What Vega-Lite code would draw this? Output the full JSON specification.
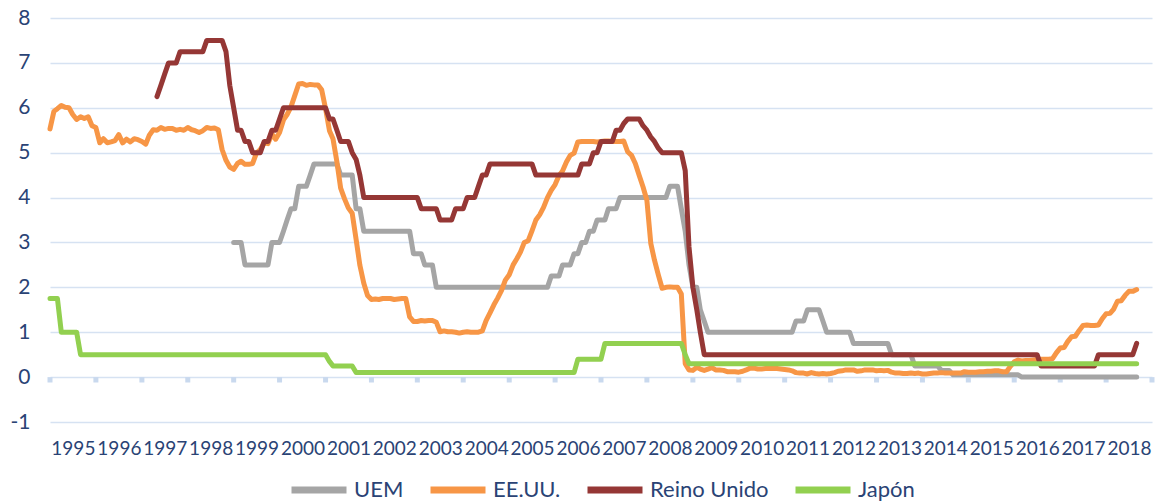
{
  "$schema": "https://vega.github.io/schema/vega-lite/v6.json",
  "width": 1102,
  "height": 404,
  "autosize": {"type": "none"},
  "padding": {"left": 50, "top": 18, "right": 8, "bottom": 82},
  "background": "white",
  "config": {
    "view": {"stroke": null},
    "font": "Lato",
    "axis": {"domain": false, "ticks": false, "tickSize": 0, "labelColor": "#2a4375", "labelFont": "Lato", "grid": false},
    "axisY": {"grid": true, "gridColor": "#d6e2f2", "gridWidth": 1.5, "labelFontSize": 21, "labelPadding": 20},
    "axisX": {"labelFontSize": 19, "labelPadding": 17},
    "legend": {"orient": "bottom", "direction": "horizontal", "symbolType": "stroke", "symbolSize": 3025, "symbolStrokeWidth": 7, "labelFontSize": 22, "labelColor": "#2a4375", "labelFont": "Lato", "columnPadding": 12, "labelOffset": 4, "offset": 1, "layout": {"bottom": {"anchor": "middle"}}}
  },
  "datasets": {
    "ticks": [
      {"d":"1995-01-01"},{"d":"1996-01-01"},{"d":"1997-01-01"},{"d":"1998-01-01"},{"d":"1999-01-01"},{"d":"2000-01-01"},{"d":"2001-01-01"},{"d":"2002-01-01"},{"d":"2003-01-01"},{"d":"2004-01-01"},{"d":"2005-01-01"},{"d":"2006-01-01"},{"d":"2007-01-01"},{"d":"2008-01-01"},{"d":"2009-01-01"},{"d":"2010-01-01"},{"d":"2011-01-01"},{"d":"2012-01-01"},{"d":"2013-01-01"},{"d":"2014-01-01"},{"d":"2015-01-01"},{"d":"2016-01-01"},{"d":"2017-01-01"},{"d":"2018-01-01"},{"d":"2019-01-01"}
    ],
    "rates": [
      {"d":"1995-01-01","us":5.53,"jp":1.75},{"d":"1995-02-01","us":5.92,"jp":1.75},{"d":"1995-03-01","us":5.98,"jp":1.75},{"d":"1995-04-01","us":6.05,"jp":1.0},{"d":"1995-05-01","us":6.01,"jp":1.0},{"d":"1995-06-01","us":6.00,"jp":1.0},{"d":"1995-07-01","us":5.85,"jp":1.0},{"d":"1995-08-01","us":5.74,"jp":1.0},{"d":"1995-09-01","us":5.80,"jp":0.5},{"d":"1995-10-01","us":5.76,"jp":0.5},{"d":"1995-11-01","us":5.80,"jp":0.5},{"d":"1995-12-01","us":5.60,"jp":0.5},
      {"d":"1996-01-01","us":5.56,"jp":0.5},{"d":"1996-02-01","us":5.22,"jp":0.5},{"d":"1996-03-01","us":5.31,"jp":0.5},{"d":"1996-04-01","us":5.22,"jp":0.5},{"d":"1996-05-01","us":5.24,"jp":0.5},{"d":"1996-06-01","us":5.27,"jp":0.5},{"d":"1996-07-01","us":5.40,"jp":0.5},{"d":"1996-08-01","us":5.22,"jp":0.5},{"d":"1996-09-01","us":5.30,"jp":0.5},{"d":"1996-10-01","us":5.24,"jp":0.5},{"d":"1996-11-01","us":5.31,"jp":0.5},{"d":"1996-12-01","us":5.29,"jp":0.5},
      {"d":"1997-01-01","us":5.25,"jp":0.5},{"d":"1997-02-01","us":5.19,"jp":0.5},{"d":"1997-03-01","us":5.39,"jp":0.5},{"d":"1997-04-01","us":5.51,"jp":0.5},{"d":"1997-05-01","us":5.50,"uk":6.25,"jp":0.5},{"d":"1997-06-01","us":5.56,"uk":6.5,"jp":0.5},{"d":"1997-07-01","us":5.52,"uk":6.75,"jp":0.5},{"d":"1997-08-01","us":5.54,"uk":7.0,"jp":0.5},{"d":"1997-09-01","us":5.54,"uk":7.0,"jp":0.5},{"d":"1997-10-01","us":5.50,"uk":7.0,"jp":0.5},{"d":"1997-11-01","us":5.52,"uk":7.25,"jp":0.5},{"d":"1997-12-01","us":5.50,"uk":7.25,"jp":0.5},
      {"d":"1998-01-01","us":5.56,"uk":7.25,"jp":0.5},{"d":"1998-02-01","us":5.51,"uk":7.25,"jp":0.5},{"d":"1998-03-01","us":5.49,"uk":7.25,"jp":0.5},{"d":"1998-04-01","us":5.45,"uk":7.25,"jp":0.5},{"d":"1998-05-01","us":5.49,"uk":7.25,"jp":0.5},{"d":"1998-06-01","us":5.56,"uk":7.5,"jp":0.5},{"d":"1998-07-01","us":5.54,"uk":7.5,"jp":0.5},{"d":"1998-08-01","us":5.55,"uk":7.5,"jp":0.5},{"d":"1998-09-01","us":5.51,"uk":7.5,"jp":0.5},{"d":"1998-10-01","us":5.07,"uk":7.5,"jp":0.5},{"d":"1998-11-01","us":4.83,"uk":7.25,"jp":0.5},{"d":"1998-12-01","us":4.68,"uk":6.5,"jp":0.5},
      {"d":"1999-01-01","uem":3.0,"us":4.63,"uk":6.0,"jp":0.5},{"d":"1999-02-01","uem":3.0,"us":4.76,"uk":5.5,"jp":0.5},{"d":"1999-03-01","uem":3.0,"us":4.81,"uk":5.5,"jp":0.5},{"d":"1999-04-01","uem":2.5,"us":4.74,"uk":5.25,"jp":0.5},{"d":"1999-05-01","uem":2.5,"us":4.74,"uk":5.25,"jp":0.5},{"d":"1999-06-01","uem":2.5,"us":4.76,"uk":5.0,"jp":0.5},{"d":"1999-07-01","uem":2.5,"us":4.99,"uk":5.0,"jp":0.5},{"d":"1999-08-01","uem":2.5,"us":5.07,"uk":5.0,"jp":0.5},{"d":"1999-09-01","uem":2.5,"us":5.22,"uk":5.25,"jp":0.5},{"d":"1999-10-01","uem":2.5,"us":5.20,"uk":5.25,"jp":0.5},{"d":"1999-11-01","uem":3.0,"us":5.42,"uk":5.5,"jp":0.5},{"d":"1999-12-01","uem":3.0,"us":5.30,"uk":5.5,"jp":0.5},
      {"d":"2000-01-01","uem":3.0,"us":5.45,"uk":5.75,"jp":0.5},{"d":"2000-02-01","uem":3.25,"us":5.73,"uk":6.0,"jp":0.5},{"d":"2000-03-01","uem":3.5,"us":5.85,"uk":6.0,"jp":0.5},{"d":"2000-04-01","uem":3.75,"us":6.02,"uk":6.0,"jp":0.5},{"d":"2000-05-01","uem":3.75,"us":6.27,"uk":6.0,"jp":0.5},{"d":"2000-06-01","uem":4.25,"us":6.53,"uk":6.0,"jp":0.5},{"d":"2000-07-01","uem":4.25,"us":6.54,"uk":6.0,"jp":0.5},{"d":"2000-08-01","uem":4.25,"us":6.50,"uk":6.0,"jp":0.5},{"d":"2000-09-01","uem":4.5,"us":6.52,"uk":6.0,"jp":0.5},{"d":"2000-10-01","uem":4.75,"us":6.51,"uk":6.0,"jp":0.5},{"d":"2000-11-01","uem":4.75,"us":6.51,"uk":6.0,"jp":0.5},{"d":"2000-12-01","uem":4.75,"us":6.40,"uk":6.0,"jp":0.5},
      {"d":"2001-01-01","uem":4.75,"us":5.98,"uk":6.0,"jp":0.5},{"d":"2001-02-01","uem":4.75,"us":5.49,"uk":5.75,"jp":0.35},{"d":"2001-03-01","uem":4.75,"us":5.31,"uk":5.75,"jp":0.25},{"d":"2001-04-01","uem":4.75,"us":4.80,"uk":5.5,"jp":0.25},{"d":"2001-05-01","uem":4.5,"us":4.21,"uk":5.25,"jp":0.25},{"d":"2001-06-01","uem":4.5,"us":3.97,"uk":5.25,"jp":0.25},{"d":"2001-07-01","uem":4.5,"us":3.77,"uk":5.25,"jp":0.25},{"d":"2001-08-01","uem":4.5,"us":3.65,"uk":5.0,"jp":0.25},{"d":"2001-09-01","uem":3.75,"us":3.07,"uk":4.85,"jp":0.1},{"d":"2001-10-01","uem":3.75,"us":2.49,"uk":4.5,"jp":0.1},{"d":"2001-11-01","uem":3.25,"us":2.09,"uk":4.0,"jp":0.1},{"d":"2001-12-01","uem":3.25,"us":1.82,"uk":4.0,"jp":0.1},
      {"d":"2002-01-01","uem":3.25,"us":1.73,"uk":4.0,"jp":0.1},{"d":"2002-02-01","uem":3.25,"us":1.74,"uk":4.0,"jp":0.1},{"d":"2002-03-01","uem":3.25,"us":1.73,"uk":4.0,"jp":0.1},{"d":"2002-04-01","uem":3.25,"us":1.75,"uk":4.0,"jp":0.1},{"d":"2002-05-01","uem":3.25,"us":1.75,"uk":4.0,"jp":0.1},{"d":"2002-06-01","uem":3.25,"us":1.75,"uk":4.0,"jp":0.1},{"d":"2002-07-01","uem":3.25,"us":1.73,"uk":4.0,"jp":0.1},{"d":"2002-08-01","uem":3.25,"us":1.74,"uk":4.0,"jp":0.1},{"d":"2002-09-01","uem":3.25,"us":1.75,"uk":4.0,"jp":0.1},{"d":"2002-10-01","uem":3.25,"us":1.75,"uk":4.0,"jp":0.1},{"d":"2002-11-01","uem":3.25,"us":1.34,"uk":4.0,"jp":0.1},{"d":"2002-12-01","uem":2.75,"us":1.24,"uk":4.0,"jp":0.1},
      {"d":"2003-01-01","uem":2.75,"us":1.24,"uk":4.0,"jp":0.1},{"d":"2003-02-01","uem":2.75,"us":1.26,"uk":3.75,"jp":0.1},{"d":"2003-03-01","uem":2.5,"us":1.25,"uk":3.75,"jp":0.1},{"d":"2003-04-01","uem":2.5,"us":1.26,"uk":3.75,"jp":0.1},{"d":"2003-05-01","uem":2.5,"us":1.26,"uk":3.75,"jp":0.1},{"d":"2003-06-01","uem":2.0,"us":1.22,"uk":3.75,"jp":0.1},{"d":"2003-07-01","uem":2.0,"us":1.01,"uk":3.5,"jp":0.1},{"d":"2003-08-01","uem":2.0,"us":1.03,"uk":3.5,"jp":0.1},{"d":"2003-09-01","uem":2.0,"us":1.01,"uk":3.5,"jp":0.1},{"d":"2003-10-01","uem":2.0,"us":1.01,"uk":3.5,"jp":0.1},{"d":"2003-11-01","uem":2.0,"us":1.00,"uk":3.75,"jp":0.1},{"d":"2003-12-01","uem":2.0,"us":0.98,"uk":3.75,"jp":0.1},
      {"d":"2004-01-01","uem":2.0,"us":1.00,"uk":3.75,"jp":0.1},{"d":"2004-02-01","uem":2.0,"us":1.01,"uk":4.0,"jp":0.1},{"d":"2004-03-01","uem":2.0,"us":1.00,"uk":4.0,"jp":0.1},{"d":"2004-04-01","uem":2.0,"us":1.00,"uk":4.0,"jp":0.1},{"d":"2004-05-01","uem":2.0,"us":1.00,"uk":4.25,"jp":0.1},{"d":"2004-06-01","uem":2.0,"us":1.03,"uk":4.5,"jp":0.1},{"d":"2004-07-01","uem":2.0,"us":1.26,"uk":4.5,"jp":0.1},{"d":"2004-08-01","uem":2.0,"us":1.43,"uk":4.75,"jp":0.1},{"d":"2004-09-01","uem":2.0,"us":1.61,"uk":4.75,"jp":0.1},{"d":"2004-10-01","uem":2.0,"us":1.76,"uk":4.75,"jp":0.1},{"d":"2004-11-01","uem":2.0,"us":1.93,"uk":4.75,"jp":0.1},{"d":"2004-12-01","uem":2.0,"us":2.16,"uk":4.75,"jp":0.1},
      {"d":"2005-01-01","uem":2.0,"us":2.28,"uk":4.75,"jp":0.1},{"d":"2005-02-01","uem":2.0,"us":2.50,"uk":4.75,"jp":0.1},{"d":"2005-03-01","uem":2.0,"us":2.63,"uk":4.75,"jp":0.1},{"d":"2005-04-01","uem":2.0,"us":2.79,"uk":4.75,"jp":0.1},{"d":"2005-05-01","uem":2.0,"us":3.00,"uk":4.75,"jp":0.1},{"d":"2005-06-01","uem":2.0,"us":3.04,"uk":4.75,"jp":0.1},{"d":"2005-07-01","uem":2.0,"us":3.26,"uk":4.75,"jp":0.1},{"d":"2005-08-01","uem":2.0,"us":3.50,"uk":4.5,"jp":0.1},{"d":"2005-09-01","uem":2.0,"us":3.62,"uk":4.5,"jp":0.1},{"d":"2005-10-01","uem":2.0,"us":3.78,"uk":4.5,"jp":0.1},{"d":"2005-11-01","uem":2.0,"us":4.00,"uk":4.5,"jp":0.1},{"d":"2005-12-01","uem":2.25,"us":4.16,"uk":4.5,"jp":0.1},
      {"d":"2006-01-01","uem":2.25,"us":4.29,"uk":4.5,"jp":0.1},{"d":"2006-02-01","uem":2.25,"us":4.49,"uk":4.5,"jp":0.1},{"d":"2006-03-01","uem":2.5,"us":4.59,"uk":4.5,"jp":0.1},{"d":"2006-04-01","uem":2.5,"us":4.79,"uk":4.5,"jp":0.1},{"d":"2006-05-01","uem":2.5,"us":4.94,"uk":4.5,"jp":0.1},{"d":"2006-06-01","uem":2.75,"us":4.99,"uk":4.5,"jp":0.1},{"d":"2006-07-01","uem":2.75,"us":5.24,"uk":4.5,"jp":0.4},{"d":"2006-08-01","uem":3.0,"us":5.25,"uk":4.75,"jp":0.4},{"d":"2006-09-01","uem":3.0,"us":5.25,"uk":4.75,"jp":0.4},{"d":"2006-10-01","uem":3.25,"us":5.25,"uk":4.75,"jp":0.4},{"d":"2006-11-01","uem":3.25,"us":5.25,"uk":5.0,"jp":0.4},{"d":"2006-12-01","uem":3.5,"us":5.24,"uk":5.0,"jp":0.4},
      {"d":"2007-01-01","uem":3.5,"us":5.25,"uk":5.25,"jp":0.4},{"d":"2007-02-01","uem":3.5,"us":5.26,"uk":5.25,"jp":0.75},{"d":"2007-03-01","uem":3.75,"us":5.26,"uk":5.25,"jp":0.75},{"d":"2007-04-01","uem":3.75,"us":5.25,"uk":5.25,"jp":0.75},{"d":"2007-05-01","uem":3.75,"us":5.25,"uk":5.5,"jp":0.75},{"d":"2007-06-01","uem":4.0,"us":5.25,"uk":5.5,"jp":0.75},{"d":"2007-07-01","uem":4.0,"us":5.26,"uk":5.65,"jp":0.75},{"d":"2007-08-01","uem":4.0,"us":5.02,"uk":5.75,"jp":0.75},{"d":"2007-09-01","uem":4.0,"us":4.94,"uk":5.75,"jp":0.75},{"d":"2007-10-01","uem":4.0,"us":4.76,"uk":5.75,"jp":0.75},{"d":"2007-11-01","uem":4.0,"us":4.49,"uk":5.75,"jp":0.75},{"d":"2007-12-01","uem":4.0,"us":4.24,"uk":5.6,"jp":0.75},
      {"d":"2008-01-01","uem":4.0,"us":3.94,"uk":5.5,"jp":0.75},{"d":"2008-02-01","uem":4.0,"us":2.98,"uk":5.35,"jp":0.75},{"d":"2008-03-01","uem":4.0,"us":2.61,"uk":5.25,"jp":0.75},{"d":"2008-04-01","uem":4.0,"us":2.28,"uk":5.1,"jp":0.75},{"d":"2008-05-01","uem":4.0,"us":1.98,"uk":5.0,"jp":0.75},{"d":"2008-06-01","uem":4.0,"us":2.00,"uk":5.0,"jp":0.75},{"d":"2008-07-01","uem":4.25,"us":2.01,"uk":5.0,"jp":0.75},{"d":"2008-08-01","uem":4.25,"us":2.00,"uk":5.0,"jp":0.75},{"d":"2008-09-01","uem":4.25,"us":2.0,"uk":5.0,"jp":0.75},{"d":"2008-10-01","uem":3.75,"us":1.85,"uk":5.0,"jp":0.75},{"d":"2008-11-01","uem":3.25,"us":0.3,"uk":4.6,"jp":0.5},{"d":"2008-12-01","uem":2.5,"us":0.16,"uk":2.9,"jp":0.3},
      {"d":"2009-01-01","uem":2.0,"us":0.15,"uk":2.0,"jp":0.3},{"d":"2009-02-01","uem":2.0,"us":0.22,"uk":1.5,"jp":0.3},{"d":"2009-03-01","uem":1.5,"us":0.18,"uk":1.0,"jp":0.3},{"d":"2009-04-01","uem":1.25,"us":0.15,"uk":0.5,"jp":0.3},{"d":"2009-05-01","uem":1.0,"us":0.18,"uk":0.5,"jp":0.3},{"d":"2009-06-01","uem":1.0,"us":0.21,"uk":0.5,"jp":0.3},{"d":"2009-07-01","uem":1.0,"us":0.16,"uk":0.5,"jp":0.3},{"d":"2009-08-01","uem":1.0,"us":0.16,"uk":0.5,"jp":0.3},{"d":"2009-09-01","uem":1.0,"us":0.15,"uk":0.5,"jp":0.3},{"d":"2009-10-01","uem":1.0,"us":0.12,"uk":0.5,"jp":0.3},{"d":"2009-11-01","uem":1.0,"us":0.12,"uk":0.5,"jp":0.3},{"d":"2009-12-01","uem":1.0,"us":0.12,"uk":0.5,"jp":0.3},
      {"d":"2010-01-01","uem":1.0,"us":0.11,"uk":0.5,"jp":0.3},{"d":"2010-02-01","uem":1.0,"us":0.13,"uk":0.5,"jp":0.3},{"d":"2010-03-01","uem":1.0,"us":0.16,"uk":0.5,"jp":0.3},{"d":"2010-04-01","uem":1.0,"us":0.20,"uk":0.5,"jp":0.3},{"d":"2010-05-01","uem":1.0,"us":0.20,"uk":0.5,"jp":0.3},{"d":"2010-06-01","uem":1.0,"us":0.18,"uk":0.5,"jp":0.3},{"d":"2010-07-01","uem":1.0,"us":0.18,"uk":0.5,"jp":0.3},{"d":"2010-08-01","uem":1.0,"us":0.19,"uk":0.5,"jp":0.3},{"d":"2010-09-01","uem":1.0,"us":0.19,"uk":0.5,"jp":0.3},{"d":"2010-10-01","uem":1.0,"us":0.19,"uk":0.5,"jp":0.3},{"d":"2010-11-01","uem":1.0,"us":0.19,"uk":0.5,"jp":0.3},{"d":"2010-12-01","uem":1.0,"us":0.18,"uk":0.5,"jp":0.3},
      {"d":"2011-01-01","uem":1.0,"us":0.17,"uk":0.5,"jp":0.3},{"d":"2011-02-01","uem":1.0,"us":0.16,"uk":0.5,"jp":0.3},{"d":"2011-03-01","uem":1.0,"us":0.14,"uk":0.5,"jp":0.3},{"d":"2011-04-01","uem":1.25,"us":0.10,"uk":0.5,"jp":0.3},{"d":"2011-05-01","uem":1.25,"us":0.09,"uk":0.5,"jp":0.3},{"d":"2011-06-01","uem":1.25,"us":0.09,"uk":0.5,"jp":0.3},{"d":"2011-07-01","uem":1.5,"us":0.07,"uk":0.5,"jp":0.3},{"d":"2011-08-01","uem":1.5,"us":0.10,"uk":0.5,"jp":0.3},{"d":"2011-09-01","uem":1.5,"us":0.08,"uk":0.5,"jp":0.3},{"d":"2011-10-01","uem":1.5,"us":0.07,"uk":0.5,"jp":0.3},{"d":"2011-11-01","uem":1.25,"us":0.08,"uk":0.5,"jp":0.3},{"d":"2011-12-01","uem":1.0,"us":0.07,"uk":0.5,"jp":0.3},
      {"d":"2012-01-01","uem":1.0,"us":0.08,"uk":0.5,"jp":0.3},{"d":"2012-02-01","uem":1.0,"us":0.10,"uk":0.5,"jp":0.3},{"d":"2012-03-01","uem":1.0,"us":0.13,"uk":0.5,"jp":0.3},{"d":"2012-04-01","uem":1.0,"us":0.14,"uk":0.5,"jp":0.3},{"d":"2012-05-01","uem":1.0,"us":0.16,"uk":0.5,"jp":0.3},{"d":"2012-06-01","uem":1.0,"us":0.16,"uk":0.5,"jp":0.3},{"d":"2012-07-01","uem":0.75,"us":0.16,"uk":0.5,"jp":0.3},{"d":"2012-08-01","uem":0.75,"us":0.13,"uk":0.5,"jp":0.3},{"d":"2012-09-01","uem":0.75,"us":0.14,"uk":0.5,"jp":0.3},{"d":"2012-10-01","uem":0.75,"us":0.16,"uk":0.5,"jp":0.3},{"d":"2012-11-01","uem":0.75,"us":0.16,"uk":0.5,"jp":0.3},{"d":"2012-12-01","uem":0.75,"us":0.16,"uk":0.5,"jp":0.3},
      {"d":"2013-01-01","uem":0.75,"us":0.14,"uk":0.5,"jp":0.3},{"d":"2013-02-01","uem":0.75,"us":0.15,"uk":0.5,"jp":0.3},{"d":"2013-03-01","uem":0.75,"us":0.14,"uk":0.5,"jp":0.3},{"d":"2013-04-01","uem":0.75,"us":0.15,"uk":0.5,"jp":0.3},{"d":"2013-05-01","uem":0.5,"us":0.11,"uk":0.5,"jp":0.3},{"d":"2013-06-01","uem":0.5,"us":0.09,"uk":0.5,"jp":0.3},{"d":"2013-07-01","uem":0.5,"us":0.09,"uk":0.5,"jp":0.3},{"d":"2013-08-01","uem":0.5,"us":0.08,"uk":0.5,"jp":0.3},{"d":"2013-09-01","uem":0.5,"us":0.08,"uk":0.5,"jp":0.3},{"d":"2013-10-01","uem":0.5,"us":0.09,"uk":0.5,"jp":0.3},{"d":"2013-11-01","uem":0.25,"us":0.08,"uk":0.5,"jp":0.3},{"d":"2013-12-01","uem":0.25,"us":0.09,"uk":0.5,"jp":0.3},
      {"d":"2014-01-01","uem":0.25,"us":0.07,"uk":0.5,"jp":0.3},{"d":"2014-02-01","uem":0.25,"us":0.07,"uk":0.5,"jp":0.3},{"d":"2014-03-01","uem":0.25,"us":0.08,"uk":0.5,"jp":0.3},{"d":"2014-04-01","uem":0.25,"us":0.09,"uk":0.5,"jp":0.3},{"d":"2014-05-01","uem":0.25,"us":0.09,"uk":0.5,"jp":0.3},{"d":"2014-06-01","uem":0.15,"us":0.10,"uk":0.5,"jp":0.3},{"d":"2014-07-01","uem":0.15,"us":0.09,"uk":0.5,"jp":0.3},{"d":"2014-08-01","uem":0.15,"us":0.09,"uk":0.5,"jp":0.3},{"d":"2014-09-01","uem":0.05,"us":0.09,"uk":0.5,"jp":0.3},{"d":"2014-10-01","uem":0.05,"us":0.09,"uk":0.5,"jp":0.3},{"d":"2014-11-01","uem":0.05,"us":0.09,"uk":0.5,"jp":0.3},{"d":"2014-12-01","uem":0.05,"us":0.12,"uk":0.5,"jp":0.3},
      {"d":"2015-01-01","uem":0.05,"us":0.11,"uk":0.5,"jp":0.3},{"d":"2015-02-01","uem":0.05,"us":0.11,"uk":0.5,"jp":0.3},{"d":"2015-03-01","uem":0.05,"us":0.11,"uk":0.5,"jp":0.3},{"d":"2015-04-01","uem":0.05,"us":0.12,"uk":0.5,"jp":0.3},{"d":"2015-05-01","uem":0.05,"us":0.12,"uk":0.5,"jp":0.3},{"d":"2015-06-01","uem":0.05,"us":0.13,"uk":0.5,"jp":0.3},{"d":"2015-07-01","uem":0.05,"us":0.13,"uk":0.5,"jp":0.3},{"d":"2015-08-01","uem":0.05,"us":0.14,"uk":0.5,"jp":0.3},{"d":"2015-09-01","uem":0.05,"us":0.14,"uk":0.5,"jp":0.3},{"d":"2015-10-01","uem":0.05,"us":0.12,"uk":0.5,"jp":0.3},{"d":"2015-11-01","uem":0.05,"us":0.12,"uk":0.5,"jp":0.3},{"d":"2015-12-01","uem":0.05,"us":0.24,"uk":0.5,"jp":0.3},
      {"d":"2016-01-01","uem":0.05,"us":0.34,"uk":0.5,"jp":0.3},{"d":"2016-02-01","uem":0.05,"us":0.38,"uk":0.5,"jp":0.3},{"d":"2016-03-01","uem":0.0,"us":0.36,"uk":0.5,"jp":0.3},{"d":"2016-04-01","uem":0.0,"us":0.37,"uk":0.5,"jp":0.3},{"d":"2016-05-01","uem":0.0,"us":0.37,"uk":0.5,"jp":0.3},{"d":"2016-06-01","uem":0.0,"us":0.38,"uk":0.5,"jp":0.3},{"d":"2016-07-01","uem":0.0,"us":0.39,"uk":0.5,"jp":0.3},{"d":"2016-08-01","uem":0.0,"us":0.40,"uk":0.25,"jp":0.3},{"d":"2016-09-01","uem":0.0,"us":0.40,"uk":0.25,"jp":0.3},{"d":"2016-10-01","uem":0.0,"us":0.40,"uk":0.25,"jp":0.3},{"d":"2016-11-01","uem":0.0,"us":0.41,"uk":0.25,"jp":0.3},{"d":"2016-12-01","uem":0.0,"us":0.54,"uk":0.25,"jp":0.3},
      {"d":"2017-01-01","uem":0.0,"us":0.65,"uk":0.25,"jp":0.3},{"d":"2017-02-01","uem":0.0,"us":0.66,"uk":0.25,"jp":0.3},{"d":"2017-03-01","uem":0.0,"us":0.79,"uk":0.25,"jp":0.3},{"d":"2017-04-01","uem":0.0,"us":0.90,"uk":0.25,"jp":0.3},{"d":"2017-05-01","uem":0.0,"us":0.91,"uk":0.25,"jp":0.3},{"d":"2017-06-01","uem":0.0,"us":1.04,"uk":0.25,"jp":0.3},{"d":"2017-07-01","uem":0.0,"us":1.15,"uk":0.25,"jp":0.3},{"d":"2017-08-01","uem":0.0,"us":1.16,"uk":0.25,"jp":0.3},{"d":"2017-09-01","uem":0.0,"us":1.15,"uk":0.25,"jp":0.3},{"d":"2017-10-01","uem":0.0,"us":1.15,"uk":0.25,"jp":0.3},{"d":"2017-11-01","uem":0.0,"us":1.16,"uk":0.5,"jp":0.3},{"d":"2017-12-01","uem":0.0,"us":1.30,"uk":0.5,"jp":0.3},
      {"d":"2018-01-01","uem":0.0,"us":1.41,"uk":0.5,"jp":0.3},{"d":"2018-02-01","uem":0.0,"us":1.42,"uk":0.5,"jp":0.3},{"d":"2018-03-01","uem":0.0,"us":1.51,"uk":0.5,"jp":0.3},{"d":"2018-04-01","uem":0.0,"us":1.69,"uk":0.5,"jp":0.3},{"d":"2018-05-01","uem":0.0,"us":1.70,"uk":0.5,"jp":0.3},{"d":"2018-06-01","uem":0.0,"us":1.82,"uk":0.5,"jp":0.3},{"d":"2018-07-01","uem":0.0,"us":1.91,"uk":0.5,"jp":0.3},{"d":"2018-08-01","uem":0.0,"us":1.91,"uk":0.5,"jp":0.3},{"d":"2018-09-01","uem":0.0,"us":1.95,"uk":0.75,"jp":0.3}
    ]
  },
  "layer": [
    {
      "data": {"name": "ticks"},
      "mark": {"type": "rule", "color": "#c9d9ee", "strokeWidth": 5},
      "encoding": {
        "x": {"field": "d", "type": "temporal", "title": null, "scale": {"type": "utc", "domain": [{"year": 1995, "month": 1, "date": 1, "utc": true}, {"year": 2019, "month": 1, "date": 1, "utc": true}]}, "axis": {"format": "%Y", "values": [{"year": 1995, "month": 7, "date": 2, "utc": true}, {"year": 1996, "month": 7, "date": 2, "utc": true}, {"year": 1997, "month": 7, "date": 2, "utc": true}, {"year": 1998, "month": 7, "date": 2, "utc": true}, {"year": 1999, "month": 7, "date": 2, "utc": true}, {"year": 2000, "month": 7, "date": 2, "utc": true}, {"year": 2001, "month": 7, "date": 2, "utc": true}, {"year": 2002, "month": 7, "date": 2, "utc": true}, {"year": 2003, "month": 7, "date": 2, "utc": true}, {"year": 2004, "month": 7, "date": 2, "utc": true}, {"year": 2005, "month": 7, "date": 2, "utc": true}, {"year": 2006, "month": 7, "date": 2, "utc": true}, {"year": 2007, "month": 7, "date": 2, "utc": true}, {"year": 2008, "month": 7, "date": 2, "utc": true}, {"year": 2009, "month": 7, "date": 2, "utc": true}, {"year": 2010, "month": 7, "date": 2, "utc": true}, {"year": 2011, "month": 7, "date": 2, "utc": true}, {"year": 2012, "month": 7, "date": 2, "utc": true}, {"year": 2013, "month": 7, "date": 2, "utc": true}, {"year": 2014, "month": 7, "date": 2, "utc": true}, {"year": 2015, "month": 7, "date": 2, "utc": true}, {"year": 2016, "month": 7, "date": 2, "utc": true}, {"year": 2017, "month": 7, "date": 2, "utc": true}, {"year": 2018, "month": 7, "date": 2, "utc": true}]}},
        "y": {"datum": 0, "type": "quantitative", "title": null, "scale": {"domain": [-1, 8]}, "axis": {"values": [-1, 0, 1, 2, 3, 4, 5, 6, 7, 8], "labelExpr": "toString(datum.value)"}},
        "y2": {"datum": -0.12}
      }
    },
    {
      "mark": {"type": "rule", "color": "#c9d9ee", "strokeWidth": 5},
      "encoding": {
        "y": {"datum": 0, "type": "quantitative", "title": null}
      }
    },
    {
      "data": {"name": "rates"},
      "mark": {"type": "line", "strokeWidth": 5, "strokeJoin": "round", "strokeCap": "round"},
      "encoding": {
        "x": {"field": "d", "type": "temporal", "title": null},
        "y": {"field": "uem", "type": "quantitative", "title": null},
        "color": {"datum": "UEM", "type": "nominal", "title": null, "scale": {"domain": ["UEM", "EE.UU.", "Reino Unido", "Japón"], "range": ["#a5a5a5", "#f79646", "#953735", "#92d050"]}}
      }
    },
    {
      "data": {"name": "rates"},
      "mark": {"type": "line", "strokeWidth": 5, "strokeJoin": "round", "strokeCap": "round"},
      "encoding": {
        "x": {"field": "d", "type": "temporal", "title": null},
        "y": {"field": "us", "type": "quantitative", "title": null},
        "color": {"datum": "EE.UU.", "type": "nominal", "title": null}
      }
    },
    {
      "data": {"name": "rates"},
      "mark": {"type": "line", "strokeWidth": 5, "strokeJoin": "round", "strokeCap": "round"},
      "encoding": {
        "x": {"field": "d", "type": "temporal", "title": null},
        "y": {"field": "uk", "type": "quantitative", "title": null},
        "color": {"datum": "Reino Unido", "type": "nominal", "title": null}
      }
    },
    {
      "data": {"name": "rates"},
      "mark": {"type": "line", "strokeWidth": 5, "strokeJoin": "round", "strokeCap": "round"},
      "encoding": {
        "x": {"field": "d", "type": "temporal", "title": null},
        "y": {"field": "jp", "type": "quantitative", "title": null},
        "color": {"datum": "Japón", "type": "nominal", "title": null}
      }
    }
  ]
}
